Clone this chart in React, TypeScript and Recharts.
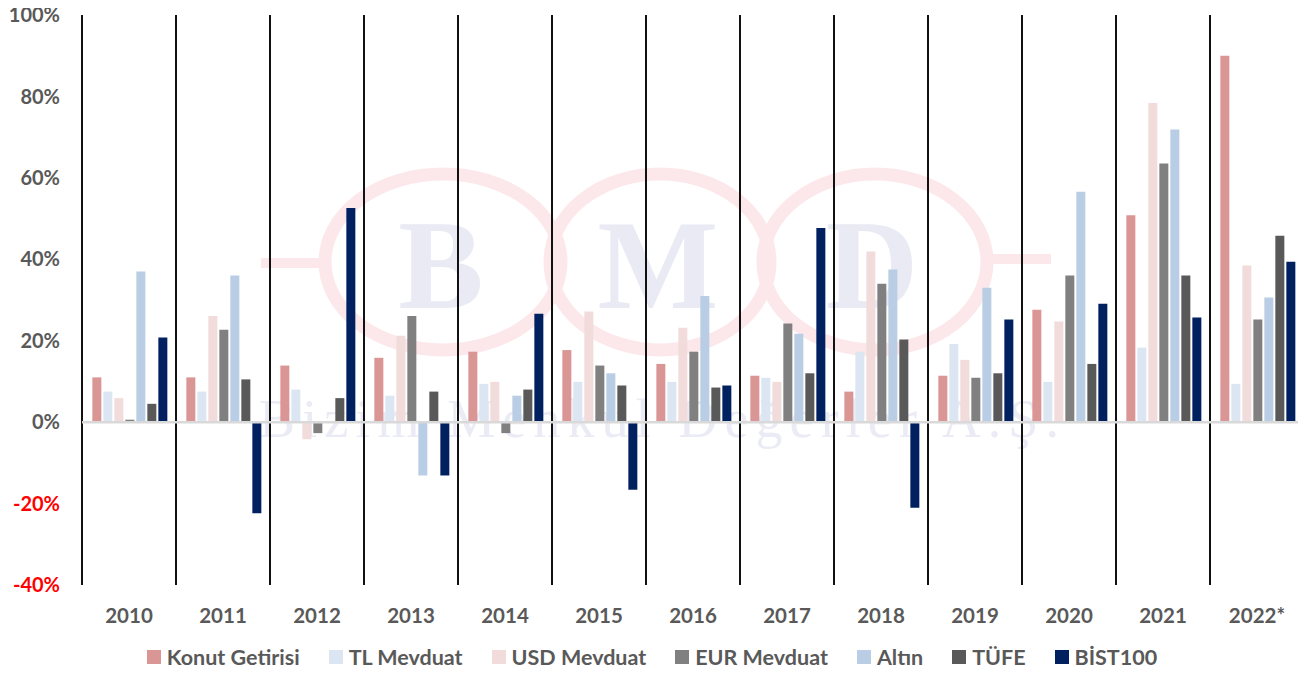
import { Bar, BarChart, CartesianGrid, Legend, ReferenceLine, XAxis, YAxis } from "recharts"

const years = ["2010", "2011", "2012", "2013", "2014", "2015", "2016", "2017", "2018", "2019", "2020", "2021", "2022*"]
const konut = [11, 11, 13.9, 15.8, 17.3, 17.7, 14.3, 11.4, 7.5, 11.4, 27.6, 50.8, 90]
const tlMevduat = [7.5, 7.5, 8, 6.5, 9.4, 9.9, 9.9, 10.9, 17.3, 19.2, 9.9, 18.3, 9.4]
const usdMevduat = [5.9, 26.1, -4.2, 21.2, 9.9, 27.2, 23.2, 9.9, 41.9, 15.3, 24.7, 78.4, 38.5]
const eurMevduat = [0.6, 22.7, -2.7, 26.1, -2.7, 13.9, 17.3, 24.2, 34, 10.9, 36, 63.5, 25.2]
const altin = [37, 36, 0, -13.1, 6.5, 12, 31, 21.7, 37.5, 33, 56.6, 71.9, 30.6]
const tufe = [4.5, 10.5, 5.9, 7.5, 8, 9, 8.5, 12, 20.3, 12, 14.3, 36, 45.8]
const bist100 = [20.8, -22.4, 52.6, -13.1, 26.6, -16.6, 9, 47.7, -21, 25.2, 29.1, 25.7, 39.4]
const yTicks = [-40, -20, 0, 20, 40, 60, 80, 100]

const series = [
  { key: "konut", name: "Konut Getirisi", color: "#d99694" },
  { key: "tl", name: "TL Mevduat", color: "#dce6f2" },
  { key: "usd", name: "USD Mevduat", color: "#f2dcdb" },
  { key: "eur", name: "EUR Mevduat", color: "#808080" },
  { key: "altin", name: "Altın", color: "#b9cde5" },
  { key: "tufe", name: "TÜFE", color: "#595959" },
  { key: "bist", name: "BİST100", color: "#002060" },
]

const data = years.map((year, i) => ({
  year,
  konut: konut[i],
  tl: tlMevduat[i],
  usd: usdMevduat[i],
  eur: eurMevduat[i],
  altin: altin[i],
  tufe: tufe[i],
  bist: bist100[i],
}))

const FONT = "Lato, 'Open Sans', sans-serif"
const TEXT = "#595959"

function YTick({ x, y, payload }: any) {
  const v = payload.value as number
  return (
    <text
      x={x - 22}
      y={y}
      dy="0.36em"
      textAnchor="end"
      fontFamily={FONT}
      fontWeight={700}
      fontSize={20}
      fill={v < 0 ? "#ff0000" : TEXT}
    >
      {`${v}%`}
    </text>
  )
}

function XTick({ x, y, payload }: any) {
  return (
    <text x={x} y={y + 38} textAnchor="middle" fontFamily={FONT} fontWeight={700} fontSize={20.5} fill={TEXT}>
      {payload.value}
    </text>
  )
}

function LegendContent() {
  return (
    <div
      style={{
        height: 50,
        paddingTop: 14,
        boxSizing: "border-box",
        display: "flex",
        justifyContent: "center",
        alignItems: "center",
        gap: 29,
        fontFamily: FONT,
        fontWeight: 700,
        fontSize: 21.5,
        color: TEXT,
      }}
    >
      {series.map((s) => (
        <div key={s.key} style={{ display: "flex", alignItems: "center", gap: 6 }}>
          <span style={{ width: 14, height: 14, background: s.color, display: "inline-block" }} />
          <span>{s.name}</span>
        </div>
      ))}
    </div>
  )
}

// faint company watermark behind the plot
function Watermark() {
  const ring = "#fce8ea"
  const letter = "#e9eaf4"
  return (
    <svg width={1306} height={675} style={{ position: "absolute", left: 0, top: 0 }}>
      <ellipse cx={443} cy={262} rx={118} ry={88} fill="none" stroke={ring} strokeWidth={13} />
      <ellipse cx={660} cy={262} rx={110} ry={88} fill="none" stroke={ring} strokeWidth={13} />
      <ellipse cx={875} cy={262} rx={112} ry={88} fill="none" stroke={ring} strokeWidth={13} />
      <rect x={261} y={258} width={70} height={10} fill={ring} />
      <rect x={985} y={254} width={66} height={10} fill={ring} />
      <g fontFamily="'Liberation Serif', 'DejaVu Serif', serif" fontWeight={700} fill={letter} fontSize={128} textAnchor="middle">
        <text x={441} y={308}>B</text>
        <text x={658} y={308}>M</text>
        <text x={872} y={308}>D</text>
      </g>
      <text
        x={259}
        y={437}
        fontFamily="'Liberation Serif', 'DejaVu Serif', serif"
        fontSize={54}
        fill="#eaebf4"
        textLength={800}
        lengthAdjust="spacing"
      >
        Bizim Menkul Değerler A.Ş.
      </text>
    </svg>
  )
}

export default function App() {
  return (
    <div style={{ position: "relative", width: 1306, height: 675, margin: -8, background: "#fff" }}>
      <Watermark />
      <div style={{ position: "absolute", left: 0, top: 0 }}>
        <BarChart
          width={1306}
          height={675}
          data={data}
          margin={{ top: 15, right: 2, left: 0, bottom: 0 }}
          barCategoryGap="11%"
          barGap={2}
        >
          <CartesianGrid
            horizontal={false}
            stroke="#111"
            strokeWidth={2}
            verticalCoordinatesGenerator={({ offset }: any) =>
              years.map((_, i) => offset.left + (i * offset.width) / years.length).concat(offset.left + offset.width)
            }
          />
          <XAxis dataKey="year" height={40} axisLine={false} tickLine={false} tickSize={0} tickMargin={0} tick={<XTick />} interval={0} />
          <YAxis
            width={82}
            domain={[-40, 100]}
            ticks={yTicks}
            axisLine={false}
            tickLine={false}
            tickSize={0}
            tickMargin={0}
            tick={<YTick />}
            interval={0}
          />
          <ReferenceLine y={0} stroke="#d9d9d9" strokeWidth={2.5} />
          {series.map((s) => (
            <Bar key={s.key} dataKey={s.key} name={s.name} fill={s.color} isAnimationActive={false} />
          ))}
          <Legend verticalAlign="bottom" content={<LegendContent />} wrapperStyle={{ height: 50 }} />
        </BarChart>
      </div>
    </div>
  )
}
